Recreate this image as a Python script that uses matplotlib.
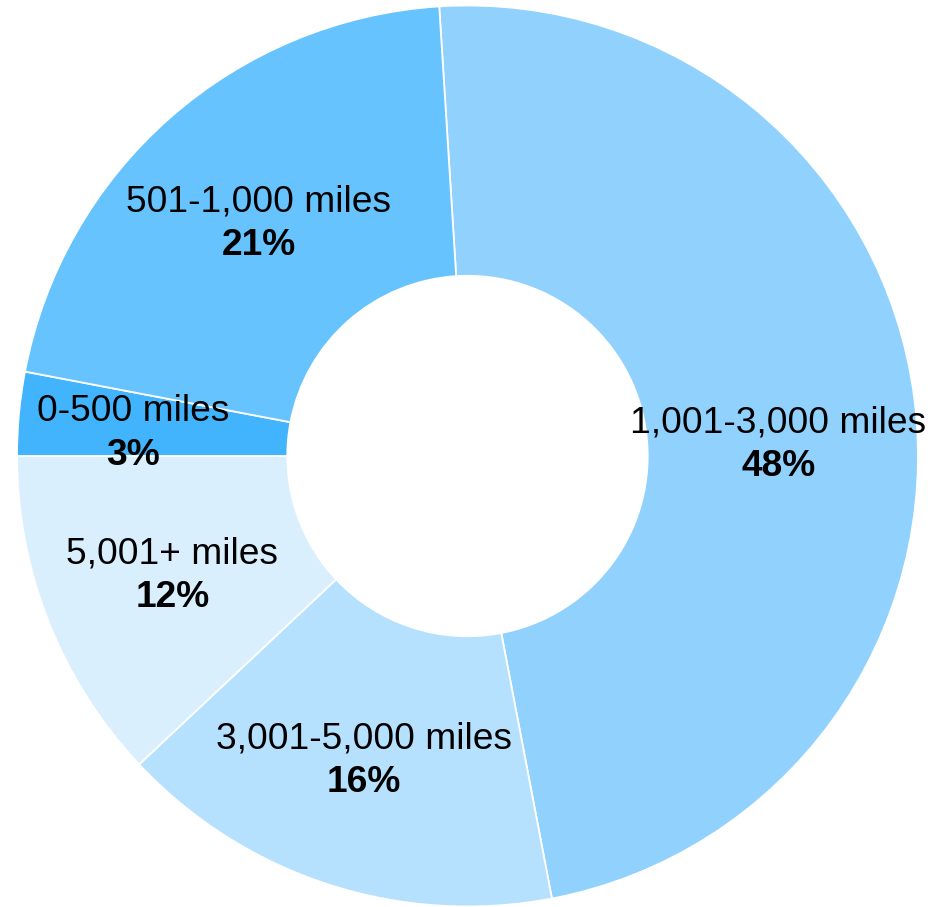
import numpy as np
import matplotlib
matplotlib.use("Agg")
import matplotlib.pyplot as plt

# distance bands, clockwise from the top
bands = ["1,001-3,000 miles", "3,001-5,000 miles", "5,001+ miles", "0-500 miles", "501-1,000 miles"]
shares = [48, 16, 12, 3, 21]
colors = ["#90D1FE", "#B5E1FE", "#DAEFFE", "#42B4FE", "#66C3FE"]

# small nudges (pixels, right / down) for each label block
label_nudge = [(-2, 24.5), (-6, 1), (-2, 0), (-20.5, 3.5), (-0.5, 0.5)]

plt.rcParams["font.family"] = ["Liberation Sans", "DejaVu Sans"]

W, H = 932, 907
fig = plt.figure(figsize=(W / 100, H / 100), dpi=100)
ax = fig.add_axes([0, 0, 1, 1])

start = 93.6
wedges, _ = ax.pie(shares, colors=colors, startangle=start, counterclock=False,
                   radius=1.0, wedgeprops=dict(width=0.6, edgecolor="white", linewidth=1.3))

# 1 data unit = outer radius in pixels
px = 450.5
cx, cy = 467.5, 456
ax.set_xlim(-cx / px, (W - cx) / px)
ax.set_ylim(-(H - cy) / px, cy / px)
ax.set_aspect("auto")
ax.axis("off")

fs = 26.7
total = sum(shares)
cum = 0
for name, val, (nx, ny) in zip(bands, shares, label_nudge):
    mid = np.deg2rad(start - (cum + val / 2) / total * 360)
    cum += val
    r = 0.7
    x = r * np.cos(mid) + nx / px
    y = r * np.sin(mid) - ny / px
    ax.text(x, y + 8.75 / px, name, ha="center", va="baseline", fontsize=fs, color="black")
    ax.text(x, y - 35.25 / px, f"{val}%", ha="center", va="baseline", fontsize=fs,
            fontweight="bold", color="black")

fig.savefig("out.png", dpi=100, facecolor="white")
